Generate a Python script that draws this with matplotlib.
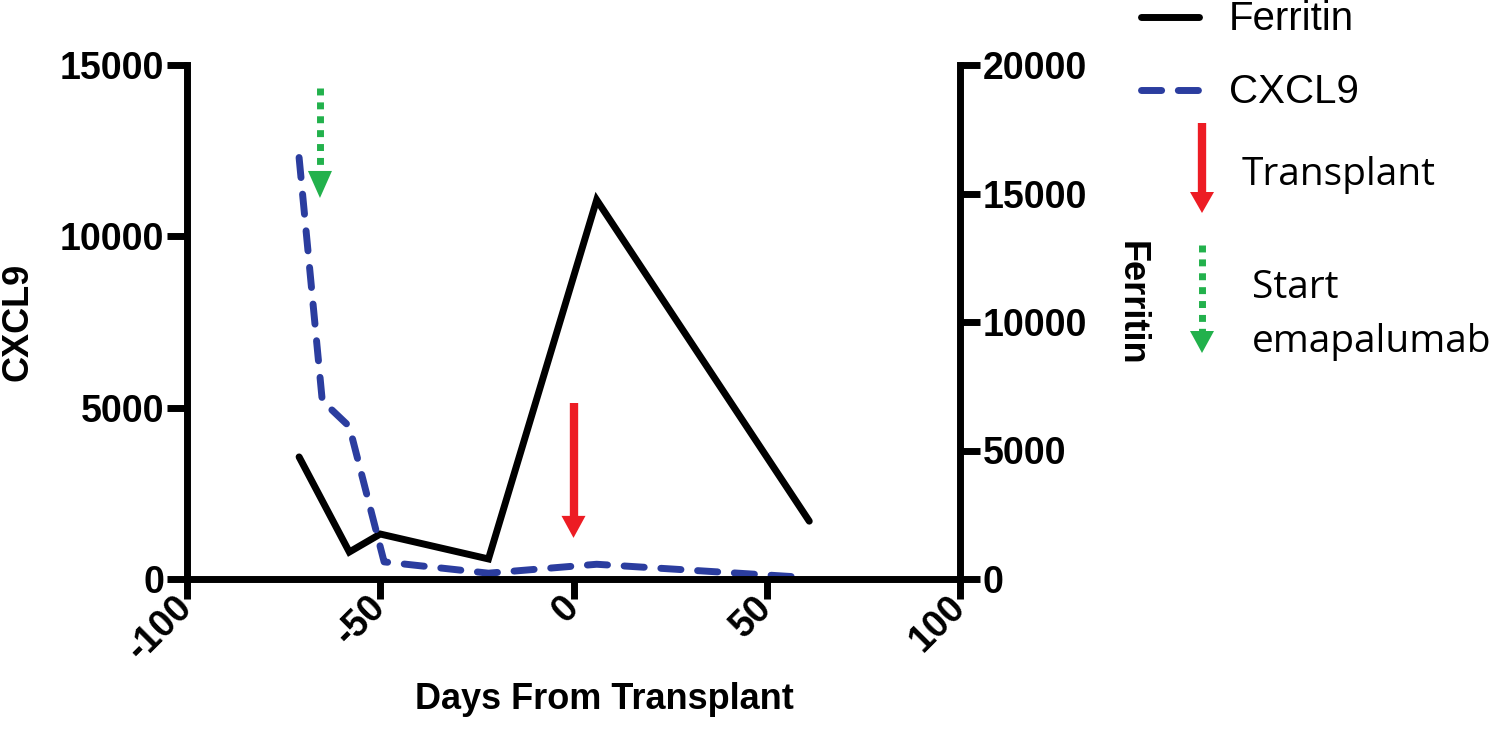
import matplotlib
matplotlib.use("Agg")
import matplotlib.pyplot as plt
from matplotlib.lines import Line2D

# ---------------- data ----------------
ferritin_days = [-71, -58, -50, -22, 6, 61]
ferritin_vals = [4750, 1050, 1750, 780, 14750, 2250]

cxcl9_days = [-71, -65, -58, -49, -22, 6, 58]
cxcl9_vals = [12300, 5200, 4450, 500, 170, 430, 60]

transplant_day = 0
emapalumab_day = -65.6

x_ticks = [-100, -50, 0, 50, 100]
cxcl9_ticks = [0, 5000, 10000, 15000]
ferritin_ticks = [0, 5000, 10000, 15000, 20000]

# ---------------- style ----------------
W, H = 1500, 751
DPI = 100
plt.rcParams['font.family'] = ['Liberation Sans', 'DejaVu Sans']
BLUE = '#2b3d9f'
RED = '#ed1c24'
GREEN = '#22b14c'
LW = 5.0
TICKFS = 27
LABELFS = 26

fig = plt.figure(figsize=(W / DPI, H / DPI), dpi=DPI)
fig.patch.set_facecolor('white')

left, right, top, bottom = 187, 960, 65, 579
ax = fig.add_axes([left / W, 1 - bottom / H, (right - left) / W, (bottom - top) / H])
ax2 = ax.twinx()
ax.set_zorder(2)
ax.patch.set_visible(False)

ax.set_xlim(-100, 100)
ax.set_ylim(0, 15000)
ax2.set_ylim(0, 20000)

# lines
ax2.plot(ferritin_days, ferritin_vals, color='black', lw=LW,
         solid_joinstyle='miter', solid_capstyle='round', label='Ferritin')
ax.plot(cxcl9_days, cxcl9_vals, color=BLUE, lw=LW, dashes=(2.9, 2.4),
        dash_capstyle='round', dash_joinstyle='round', label='CXCL9')

# spines / ticks
for a in (ax, ax2):
    a.spines['top'].set_visible(False)
    for s in a.spines.values():
        s.set_linewidth(LW)
ax.spines['right'].set_visible(False)
ax2.spines['left'].set_visible(False)
ax2.spines['bottom'].set_visible(False)

ax.set_xticks(x_ticks)
ax.set_xticklabels([str(v) for v in x_ticks])
ax.set_yticks(cxcl9_ticks)
ax.set_yticklabels([str(v) for v in cxcl9_ticks])
ax2.set_yticks(ferritin_ticks)
ax2.set_yticklabels([str(v) for v in ferritin_ticks])

ax.tick_params(axis='both', direction='out', length=14.5, width=LW, pad=2,
               labelsize=TICKFS)
ax2.tick_params(axis='y', direction='out', length=14.5, width=LW, pad=2,
                labelsize=TICKFS)
for lab in ax.get_yticklabels() + ax2.get_yticklabels():
    lab.set_fontweight('bold')
for lab in ax.get_xticklabels():
    lab.set_fontweight('bold')
    lab.set_rotation(45)
    lab.set_rotation_mode('anchor')
    lab.set_ha('right')
    lab.set_va('center')

# axis labels
ax.set_xlabel('Days From Transplant', fontsize=LABELFS, fontweight='bold')
ax.xaxis.set_label_coords((604 - left) / (right - left), (bottom - 682) / (bottom - top))
ax.set_ylabel('CXCL9', fontsize=LABELFS, fontweight='bold')
ax.yaxis.set_label_coords((36 - left) / (right - left), 0.5)
ax2.set_ylabel('Ferritin', fontsize=LABELFS, fontweight='bold', rotation=-90)
ax2.yaxis.label.set_va('center')
ax2.yaxis.set_label_coords((1131 - left) / (right - left), (bottom - 303) / (bottom - top))


def arrow(a, x, y_top, y_tip, color, dotted, head_len=22, head_w=24):
    tr = a.transData
    dx, dy = tr.transform((x, y_tip))
    sign = 1 if tr.transform((x, y_top))[1] > dy else -1
    y_base = tr.inverted().transform((dx, dy + sign * (head_len - 2)))[1]
    if dotted:
        a.plot([x, x], [y_top, y_base], color=color, lw=LW, dashes=(1, 1),
               dash_capstyle='butt', clip_on=False)
    else:
        a.plot([x, x], [y_top, y_base], color=color, lw=LW + 1,
               solid_capstyle='butt', clip_on=False)
    a.annotate('', xy=(x, y_tip), xytext=(0, sign * head_len),
               textcoords='offset pixels', annotation_clip=False,
               arrowprops=dict(arrowstyle='-|>,head_length=%.2f,head_width=%.2f'
                               % (head_len * 0.72, head_w / 2 * 0.72),
                               mutation_scale=1, lw=0, color=color,
                               shrinkA=0, shrinkB=0))


# event arrows on the chart
arrow(ax, transplant_day, 5130, 1200, RED, False)
arrow(ax, emapalumab_day, 14330, 11120, GREEN, True, head_len=27, head_w=24)

# ---------------- legend (pixel overlay) ----------------
ov = fig.add_axes([0, 0, 1, 1], zorder=5)
ov.set_xlim(0, W)
ov.set_ylim(H, 0)
ov.axis('off')
ov.patch.set_visible(False)

ov.plot([1141, 1199], [17, 17], color='black', lw=LW, solid_capstyle='round')
ov.text(1229, 19, 'Ferritin', fontsize=29, va='center', ha='left')
ov.plot([1141, 1199], [90, 90], color=BLUE, lw=LW, dashes=(2.9, 2.4),
        dash_capstyle='round')
ov.text(1229, 92, 'CXCL9', fontsize=29, va='center', ha='left')

arrow(ov, 1202, 123, 213, RED, False, head_len=21)
ov.text(1242, 185, 'Transplant', fontsize=28, family='Open Sans',
        va='baseline', ha='left')
arrow(ov, 1202, 245, 353, GREEN, True, head_len=22)
ov.text(1252, 298, 'Start', fontsize=28, family='Open Sans',
        va='baseline', ha='left')
ov.text(1252, 352, 'emapalumab', fontsize=28, family='Open Sans',
        va='baseline', ha='left')

fig.savefig('out.png', dpi=DPI, facecolor='white')
